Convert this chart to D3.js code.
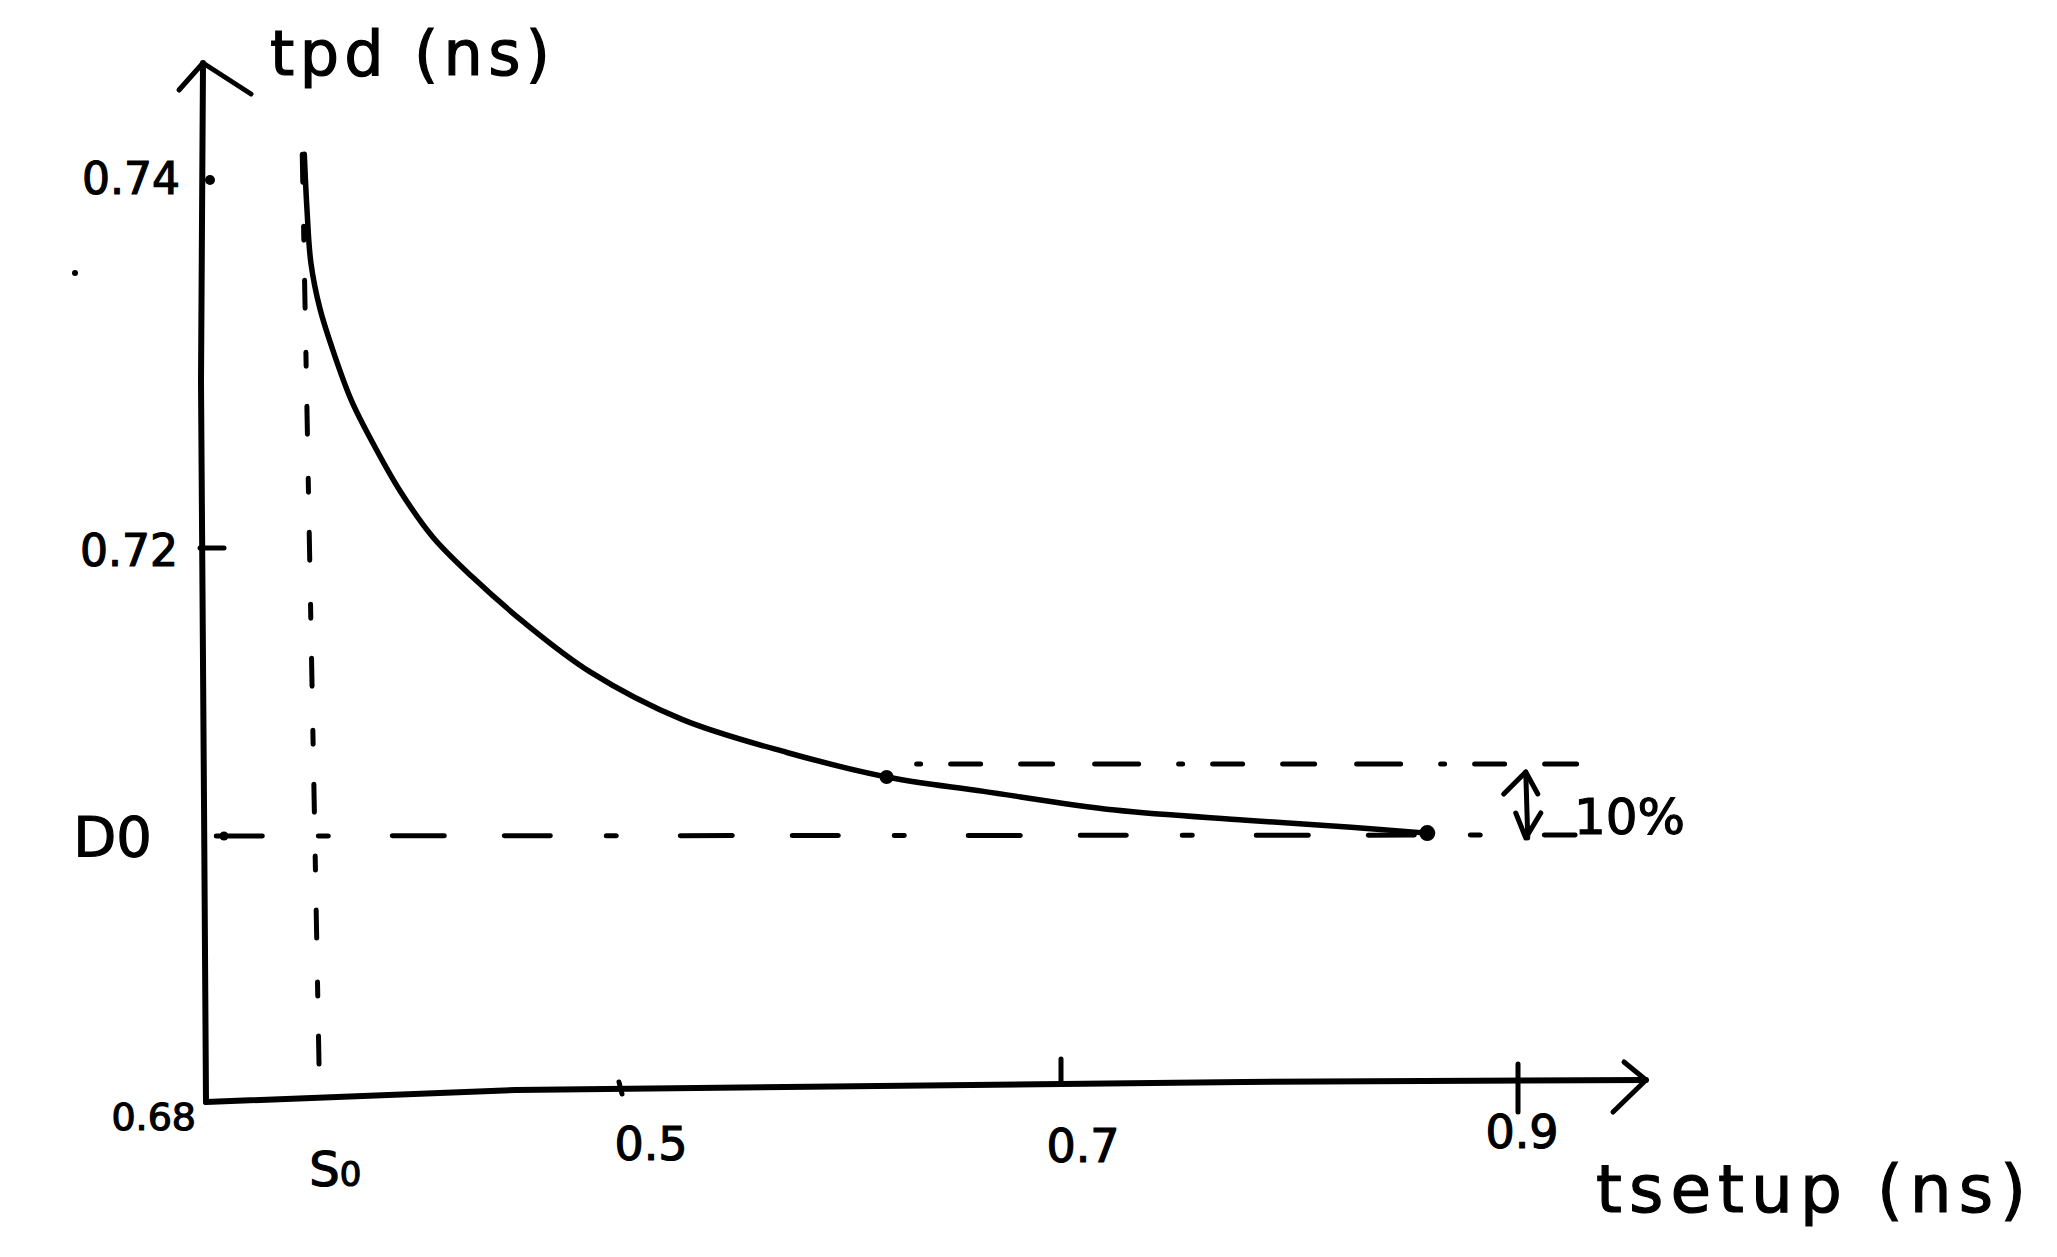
<!DOCTYPE html>
<html><head><meta charset="utf-8">
<script src="https://cdn.jsdelivr.net/npm/d3@7"></script>
<style>html,body{margin:0;padding:0;background:#fff;}svg{display:block;}</style>
</head><body>
<script>
// ---- data ----
const xTickValues = [0.5, 0.7, 0.9];
const xTickLabels = ["0.5", "0.7", "0.9"];
const yTickValues = [0.74, 0.72, 0.70, 0.68];
const yTickLabels = ["0.74", "0.72", "D0", "0.68"];
const s0 = 0.35;            // S0 marker on the x axis
const d0 = 0.70;            // D0 level
const upperLevel = 0.705;   // upper dashed level (10% band)
const curveX = [0.3476,0.3489,0.3508,0.3552,0.3622,0.3705,0.3813,0.3940,0.4098,0.4289,0.4543,0.4860,0.5285,0.5760,0.6211,0.6650,0.7236,0.7810,0.8270,0.8603];
const curveY = [0.7414,0.7384,0.7355,0.7330,0.7305,0.7280,0.7256,0.7231,0.7206,0.7180,0.7148,0.7114,0.7081,0.7058,0.7041,0.7031,0.7018,0.7011,0.7006,0.7002];
const kneePoint = [0.6211, 0.7041];
const endPoint = [0.8603, 0.7002];
const xTitle = "tsetup (ns)";
const yTitle = "tpd (ns)";
const bandLabel = "10%";

const W = 2057, H = 1257;
const svg = d3.select("body").append("svg").attr("width", W).attr("height", H);

// hand-sketched axes are not evenly spaced: piecewise-linear scales
const x = d3.scaleLinear().domain([0.3, 0.5, 0.7, 0.9]).range([206, 619, 1061, 1518]);
const y = d3.scaleLinear().domain([0.68, 0.70, 0.72, 0.74]).range([1102, 836, 548, 180]);

const ink = "#000";
const font = "'DejaVu Sans', sans-serif";
const g = svg.append("g").attr("stroke-linecap", "round").attr("stroke-linejoin", "round");

// y axis with arrow
const x0 = x(0.3), y0 = y(0.68);
g.append("path").attr("d", `M${x0},${y0} L${x0-2},${y0-300} L${x0-5},${y0-720} L${x0-3},${63}`)
  .attr("fill", "none").attr("stroke", ink).attr("stroke-width", 6);
g.append("path").attr("d", `M${x0-27},${90} L${x0-3},${63} L${x0+45},${94}`)
  .attr("fill", "none").attr("stroke", ink).attr("stroke-width", 5);

// x axis with arrow
const xEnd = 1646;
g.append("path").attr("d", `M${x0},${y0} L${x(0.45)},${y0-12} L${x(0.78)},${y0-20} L${xEnd},${y0-22}`)
  .attr("fill", "none").attr("stroke", ink).attr("stroke-width", 6);
g.append("path").attr("d", `M${xEnd-22},${y0-40} L${xEnd},${y0-22} L${xEnd-33},${y0+10}`)
  .attr("fill", "none").attr("stroke", ink).attr("stroke-width", 5);

// x ticks
g.selectAll(".xt").data(xTickValues).join("line")
  .attr("x1", d => x(d)).attr("x2", d => x(d) + (d === 0.5 ? 3 : 0))
  .attr("y1", (d, i) => y0 - [20, 43, 38][i]).attr("y2", (d, i) => y0 - [8, 20, -10][i])
  .attr("stroke", ink).attr("stroke-width", 5);

// y ticks
g.append("circle").attr("cx", x0 + 4).attr("cy", y(0.74)).attr("r", 5).attr("fill", ink);
g.append("line").attr("x1", x0 - 6).attr("x2", x0 + 18).attr("y1", y(0.72)).attr("y2", y(0.72))
  .attr("stroke", ink).attr("stroke-width", 5);
g.append("circle").attr("cx", x0 + 18).attr("cy", y(d0)).attr("r", 4.5).attr("fill", ink);
g.append("circle").attr("cx", 75).attr("cy", 273).attr("r", 3).attr("fill", ink);

// tick labels
const xLab = svg.append("g").attr("font-family", font).attr("fill", ink)
  .attr("stroke", ink).attr("stroke-width", 1.2);
xLab.selectAll("text").data(xTickValues).join("text")
  .attr("x", (d, i) => x(d) + [32, 22, 4][i]).attr("y", (d, i) => y0 + [58, 60, 46][i])
  .attr("text-anchor", "middle").attr("font-size", 46)
  .text((d, i) => xTickLabels[i]);
const s0Text = xLab.append("text").attr("x", x(s0) + 26).attr("y", y0 + 84)
  .attr("text-anchor", "middle").attr("font-size", 48);
s0Text.append("tspan").text("S");
s0Text.append("tspan").attr("font-size", 34).text("0");

const yLab = svg.append("g").attr("font-family", font).attr("fill", ink).attr("text-anchor", "end")
  .attr("stroke", ink).attr("stroke-width", 1.2);
yLab.selectAll("text").data(yTickValues).join("text")
  .attr("x", (d, i) => [180, 178, 152, 196][i])
  .attr("y", (d, i) => y(d) + [14, 18, 20, 28][i])
  .attr("font-size", (d, i) => [44, 44, 56, 38][i])
  .text((d, i) => yTickLabels[i]);

// axis titles
svg.append("text").attr("x", 270).attr("y", 75).attr("font-family", font).attr("font-size", 62)
  .attr("stroke", ink).attr("stroke-width", 1.2)
  .attr("textLength", 280).text(yTitle);
svg.append("text").attr("x", 1596).attr("y", 1212).attr("font-family", font).attr("font-size", 66)
  .attr("stroke", ink).attr("stroke-width", 1.2)
  .attr("textLength", 430).text(xTitle);

// dashed guide lines
g.append("line").attr("x1", x(s0) - 7).attr("x2", x(s0) + 10)
  .attr("y1", y(curveY[0])).attr("y2", y(0.68) - 25)
  .attr("stroke", ink).attr("stroke-width", 5).attr("stroke-dasharray", "28,44,14,40");
g.append("line").attr("x1", x(0.305)).attr("x2", x(0.925))
  .attr("y1", y(d0)).attr("y2", y(d0) - 1)
  .attr("stroke", ink).attr("stroke-width", 5).attr("stroke-dasharray", "46,56,10,64,52,60");
g.append("line").attr("x1", x(kneePoint[0]) + 30).attr("x2", x(0.942))
  .attr("y1", y(upperLevel)).attr("y2", y(upperLevel))
  .attr("stroke", ink).attr("stroke-width", 5).attr("stroke-dasharray", "4,30,30,40,32,42,44,40");

// curve
const pts = curveX.map((v, i) => [v, curveY[i]]);
g.append("path").datum(pts)
  .attr("d", d3.line().x(d => x(d[0])).y(d => y(d[1])).curve(d3.curveCatmullRom))
  .attr("fill", "none").attr("stroke", ink).attr("stroke-width", 5.5);
g.append("circle").attr("cx", x(kneePoint[0])).attr("cy", y(kneePoint[1])).attr("r", 7).attr("fill", ink);
g.append("circle").attr("cx", x(endPoint[0])).attr("cy", y(endPoint[1])).attr("r", 8).attr("fill", ink);

// 10% double arrow
const ax = x(0.9034), ayTop = y(upperLevel) + 8, ayBot = y(d0) + 2;
g.append("line").attr("x1", ax).attr("x2", ax + 2).attr("y1", ayTop).attr("y2", ayBot).attr("stroke", ink).attr("stroke-width", 5);
g.append("path").attr("d", `M${ax-22},${ayTop+22} L${ax},${ayTop} L${ax+12},${ayTop+22}`).attr("fill", "none").attr("stroke", ink).attr("stroke-width", 5);
g.append("path").attr("d", `M${ax-10},${ayBot-25} L${ax},${ayBot} L${ax+15},${ayBot-25}`).attr("fill", "none").attr("stroke", ink).attr("stroke-width", 5);
svg.append("text").attr("x", 1574).attr("y", 834).attr("font-family", font).attr("font-size", 50)
  .attr("stroke", ink).attr("stroke-width", 1.2).attr("fill", ink).text(bandLabel);
</script>
</body></html>
